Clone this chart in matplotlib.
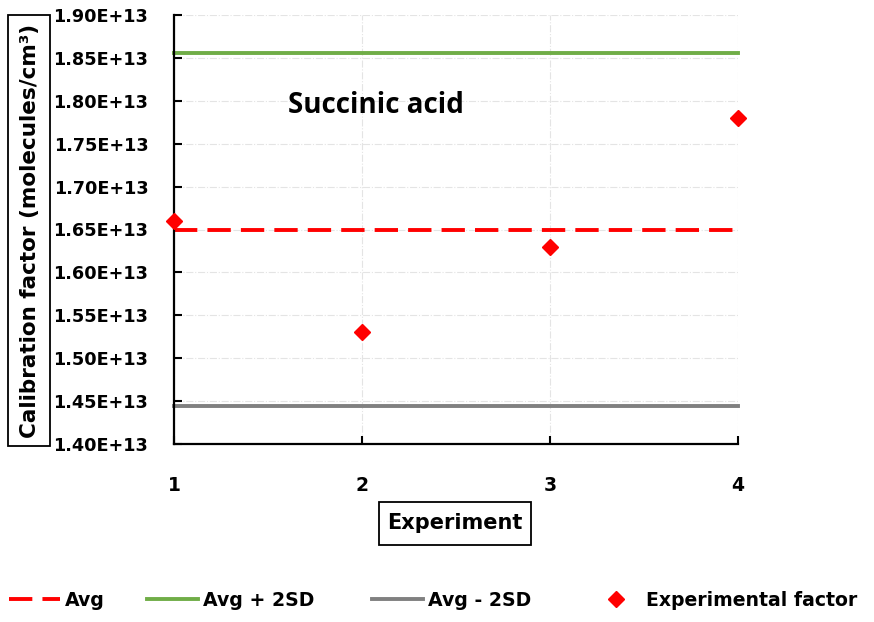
import matplotlib
matplotlib.use("Agg")
import matplotlib.pyplot as plt
from matplotlib.patches import Rectangle

plt.rcParams['font.family'] = ['DejaVu Sans']
plt.rcParams['font.weight'] = 'bold'

experiments = [1, 2, 3, 4]
factors = [1.66e13, 1.53e13, 1.63e13, 1.78e13]
avg = [1.65e13] * 4
avg_plus = [1.856e13] * 4
avg_minus = [1.444e13] * 4
yticks = [1.40e13 + i * 0.05e13 for i in range(11)]
ytick_labels = ["%.2fE+13" % (v / 1e13) for v in yticks]
series_labels = ['Avg', 'Avg + 2SD', 'Avg - 2SD', 'Experimental factor']

W, H = 874, 622
fig = plt.figure(figsize=(W / 100, H / 100), dpi=100)
ax = fig.add_axes([174 / W, (H - 444) / H, (738 - 174) / W, (444 - 15) / H])

h1, = ax.plot(experiments, avg, color='#ff0000', lw=2.8, dashes=(6, 2.6),
              label=series_labels[0], clip_on=False, dash_capstyle='butt')
h2, = ax.plot(experiments, avg_plus, color='#70ad47', lw=2.8, label=series_labels[1], clip_on=False)
h3, = ax.plot(experiments, avg_minus, color='#808080', lw=2.8, label=series_labels[2], clip_on=False)
h4, = ax.plot(experiments, factors, linestyle='none', marker='D', color='#ff0000', ms=8.3,
              label=series_labels[3], clip_on=False, zorder=5)

ax.set_xlim(1, 4)
ax.set_ylim(1.40e13, 1.90e13)
ax.set_xticks(experiments)
ax.set_xticklabels([str(e) for e in experiments], fontsize=13.5, fontweight='bold')
ax.set_yticks(yticks)
ax.set_yticklabels(ytick_labels, fontsize=12.7, fontweight='bold')
ax.tick_params(axis='both', direction='in', length=5.5, width=1.5, color='black')
ax.tick_params(axis='x', pad=23)
ax.tick_params(axis='y', pad=18.5)

ax.grid(True, color='#e4e4e4', linestyle='-.', lw=0.8)
ax.set_axisbelow(True)
for s in ['top', 'right']:
    ax.spines[s].set_visible(False)
for s in ['left', 'bottom']:
    ax.spines[s].set_linewidth(1.6)
    ax.spines[s].set_color('black')

ax.text(1.605, 1.794e13, 'Succinic acid', fontsize=20, fontweight='bold',
        family=['Open Sans', 'DejaVu Sans'], va='center', ha='left')

# boxed y label
fig.patches.append(Rectangle((8 / W, (H - 446) / H), 42 / W, 431 / H, transform=fig.transFigure,
                             fill=True, fc='white', ec='black', lw=1.3, zorder=1))
fig.text(30 / W, 1 - 231 / H, 'Calibration factor (molecules/cm³)', rotation=90,
         fontsize=15.5, fontweight='bold', ha='center', va='center', zorder=2)
# boxed x label
fig.patches.append(Rectangle((379 / W, (H - 545) / H), 152 / W, 43 / H, transform=fig.transFigure,
                             fill=True, fc='white', ec='black', lw=1.3, zorder=1))
fig.text(455 / W, 1 - 523 / H, 'Experiment', fontsize=15, fontweight='bold',
         ha='center', va='center', zorder=2)

# legend entries
starts = [9, 147, 372, 590]
for h, lab, x0 in zip([h1, h2, h3, h4], series_labels, starts):
    leg = fig.legend([h], [lab], loc='center left', bbox_to_anchor=(x0 / W, 1 - 600 / H),
                     frameon=False, fontsize=13.6, handlelength=2.7, handletextpad=0.25,
                     borderpad=0, borderaxespad=0)
    for t in leg.get_texts():
        t.set_fontweight('bold')

fig.savefig('out.png', dpi=100)
